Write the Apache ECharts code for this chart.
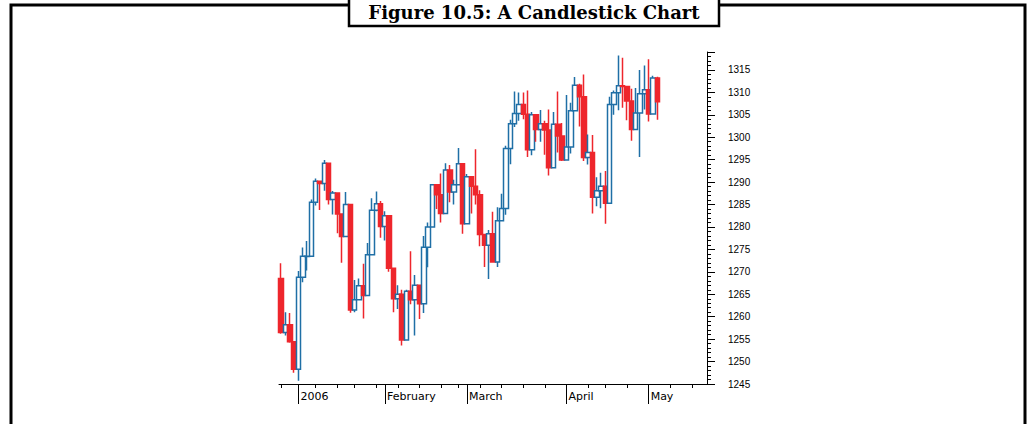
<!DOCTYPE html>
<html><head><meta charset="utf-8">
<script src="https://cdn.jsdelivr.net/npm/echarts/dist/echarts.min.js"></script>
<style>html,body{margin:0;padding:0;background:#fff;}#c{width:1029px;height:424px;}</style>
</head><body><div id="c"></div>
<script>
// Trading days (category axis); the last ones after May 3 carry no data.
const dates = [
 '2005-12-27','2005-12-28','2005-12-29','2005-12-30',
 '2006-01-03','2006-01-04','2006-01-05','2006-01-06','2006-01-09','2006-01-10','2006-01-11','2006-01-12','2006-01-13',
 '2006-01-17','2006-01-18','2006-01-19','2006-01-20','2006-01-23','2006-01-24','2006-01-25','2006-01-26','2006-01-27',
 '2006-01-30','2006-01-31',
 '2006-02-01','2006-02-02','2006-02-03','2006-02-06','2006-02-07','2006-02-08','2006-02-09','2006-02-10','2006-02-13',
 '2006-02-14','2006-02-15','2006-02-16','2006-02-17','2006-02-21','2006-02-22','2006-02-23','2006-02-24','2006-02-27','2006-02-28',
 '2006-03-01','2006-03-02','2006-03-03','2006-03-06','2006-03-07','2006-03-08','2006-03-09','2006-03-10','2006-03-13',
 '2006-03-14','2006-03-15','2006-03-16','2006-03-17','2006-03-20','2006-03-21','2006-03-22','2006-03-23','2006-03-24',
 '2006-03-27','2006-03-28','2006-03-29','2006-03-30','2006-03-31',
 '2006-04-03','2006-04-04','2006-04-05','2006-04-06','2006-04-07','2006-04-10','2006-04-11','2006-04-12','2006-04-13',
 '2006-04-17','2006-04-18','2006-04-19','2006-04-20','2006-04-21','2006-04-24','2006-04-25','2006-04-26','2006-04-27','2006-04-28',
 '2006-05-01','2006-05-02','2006-05-03',
 '2006-05-04','2006-05-05','2006-05-08','2006-05-09','2006-05-10','2006-05-11','2006-05-12','2006-05-15','2006-05-16','2006-05-17','2006-05-18'
];
const opens = [1268.5,1256.5,1258.2,1254.4,1248.3,1268.8,1273.4,1273.5,1285.5,1290.2,1289.7,1294.2,1286.1,1287.6,1282.9,1277.9,1285.0,1261.5,1263.8,1266.9,1264.7,1273.8,1283.7,1285.2,1280.1,1282.5,1270.8,1264.0,1265.0,1254.8,1265.7,1263.8,1267.0,1262.9,1275.5,1280.0,1289.4,1287.2,1283.0,1292.7,1287.8,1289.4,1294.1,1280.7,1291.2,1289.1,1287.2,1278.3,1275.9,1278.5,1272.2,1281.4,1284.1,1297.5,1303.0,1305.3,1307.3,1305.1,1297.2,1305.0,1301.7,1303.0,1301.6,1293.2,1302.9,1300.3,1294.9,1297.8,1305.9,1311.6,1309.0,1295.5,1296.6,1286.6,1288.1,1289.1,1285.3,1307.3,1309.9,1311.5,1311.3,1308.1,1301.7,1305.4,1309.7,1310.6,1305.2,1313.2];
const closes = [1256.5,1258.2,1254.4,1248.3,1268.8,1273.5,1273.5,1285.5,1290.2,1289.7,1294.2,1286.1,1287.6,1282.9,1277.9,1285.0,1261.5,1263.8,1266.9,1264.7,1273.8,1283.7,1285.2,1280.1,1282.5,1270.8,1264.0,1265.0,1254.8,1265.7,1263.8,1267.0,1262.9,1275.5,1280.0,1289.4,1287.2,1283.0,1292.7,1287.8,1289.4,1294.1,1280.7,1291.2,1289.1,1287.2,1278.3,1275.9,1278.5,1272.2,1281.4,1284.1,1297.5,1303.0,1305.3,1307.3,1305.1,1297.2,1305.0,1301.7,1303.0,1301.6,1293.2,1302.9,1300.3,1294.9,1297.8,1305.9,1311.6,1309.0,1295.5,1296.6,1286.6,1288.1,1289.1,1285.3,1307.3,1309.9,1311.5,1311.3,1308.1,1301.7,1305.4,1309.7,1310.6,1305.2,1313.2,1307.9];
const lows = [1256.2,1255.8,1254.2,1247.5,1245.7,1267.7,1270.3,1273.5,1284.8,1283.8,1288.1,1285.0,1282.8,1278.6,1272.0,1277.9,1260.9,1261.0,1263.8,1259.6,1264.7,1273.8,1283.5,1277.6,1277.0,1270.0,1261.0,1261.7,1253.6,1254.8,1262.8,1255.8,1259.5,1260.8,1271.0,1280.0,1284.0,1281.0,1283.0,1285.5,1285.0,1289.4,1278.5,1280.7,1283.0,1285.0,1275.7,1271.1,1268.4,1272.0,1271.1,1281.4,1282.7,1294.0,1302.3,1303.7,1304.0,1295.6,1296.0,1299.0,1299.0,1296.1,1291.5,1293.2,1296.6,1294.7,1294.9,1296.4,1305.9,1302.4,1294.7,1293.9,1283.0,1284.6,1284.2,1280.7,1285.3,1305.0,1306.0,1306.6,1303.8,1299.2,1301.7,1295.6,1306.2,1303.5,1305.2,1303.9];
const highs = [1271.9,1261.0,1260.8,1254.4,1270.2,1275.4,1276.9,1286.1,1290.8,1290.2,1294.9,1294.2,1288.0,1287.6,1282.9,1287.8,1285.0,1268.2,1268.5,1271.8,1276.4,1286.4,1287.9,1285.8,1283.5,1282.5,1270.8,1267.0,1266.0,1266.0,1274.6,1269.3,1267.0,1278.0,1281.0,1289.4,1289.4,1291.9,1294.2,1293.8,1290.5,1297.6,1294.1,1291.8,1291.2,1297.3,1288.2,1278.3,1279.3,1283.4,1284.4,1287.4,1298.1,1303.9,1310.2,1310.0,1310.0,1310.4,1305.6,1305.0,1306.1,1303.7,1306.2,1305.6,1310.2,1303.2,1309.4,1307.7,1313.4,1311.9,1314.0,1300.6,1300.5,1291.1,1292.1,1292.5,1309.0,1310.4,1318.2,1317.7,1311.3,1310.8,1311.0,1315.0,1316.0,1317.4,1313.7,1313.5];
const monthLabels = ['2006','February','March','April','May'];

const candles = opens.map((o, i) => [o, closes[i], lows[i], highs[i]]);

// which categories start a month / a week
const dayOf = s => new Date(s + 'T00:00:00Z');
const monthStart = dates.map((d, i) => i > 0 && d.slice(0, 7) !== dates[i - 1].slice(0, 7));
const weekStart = dates.map((d, i) => i === 0 || dayOf(d).getUTCDay() <= dayOf(dates[i - 1]).getUTCDay());
const labelOf = {};
let k = 0;
dates.forEach((d, i) => { if (monthStart[i]) labelOf[d] = monthLabels[k++]; });

const BLUE = '#1f6fa6', RED = '#ee262c';
const chart = echarts.init(document.getElementById('c'), null, {renderer: 'svg'});
chart.setOption({
  animation: false,
  backgroundColor: '#fff',
  grid: {left: 279, right: 322, top: 52, bottom: 40, containLabel: false, outerBoundsMode: 'none'},
  xAxis: [{
    type: 'category', data: dates, boundaryGap: true, position: 'bottom',
    axisLine: {show: true, lineStyle: {color: '#000', width: 1}},
    axisTick: {show: true, alignWithLabel: true, length: 4,
      interval: (i) => weekStart[i] && !monthStart[i], lineStyle: {color: '#000'}},
    axisLabel: {show: false}, splitLine: {show: false}
  }, {
    type: 'category', data: dates, boundaryGap: true, position: 'bottom',
    axisLine: {show: false},
    axisTick: {show: true, alignWithLabel: true, length: 20,
      interval: (i) => monthStart[i], lineStyle: {color: '#000'}},
    axisLabel: {show: true, interval: (i) => monthStart[i], formatter: (v) => labelOf[v] || '',
      align: 'left', padding: [0, 0, 0, 2], margin: 7, fontFamily: 'DejaVu Sans', fontSize: 11, color: '#000'},
    splitLine: {show: false}
  }],
  yAxis: {
    type: 'value', position: 'right', min: 1245, max: 1319, interval: 5,
    axisLine: {show: true, lineStyle: {color: '#000', width: 1}},
    axisTick: {show: true, length: 8, lineStyle: {color: '#000'}},
    minorTick: {show: true, splitNumber: 5, length: 4, lineStyle: {color: '#000'}},
    splitLine: {show: false}, minorSplitLine: {show: false},
    axisLabel: {margin: 21, fontFamily: 'Liberation Sans', fontSize: 10, color: '#000',
      formatter: (v) => (v % 5 === 0 ? String(v) : '')}
  },
  series: [{
    type: 'candlestick', xAxisIndex: 0, data: candles, barWidth: 5,
    itemStyle: {color: '#ffffff', color0: RED, borderColor: BLUE, borderColor0: RED, borderWidth: 1.5}
  }],
  graphic: [
    {type: 'rect', silent: true, z: 100, shape: {x: 11, y: 5, width: 1014, height: 440},
      style: {fill: 'none', stroke: '#000', lineWidth: 3}},
    {type: 'rect', silent: true, z: 101, shape: {x: 349, y: -10, width: 370, height: 36},
      style: {fill: '#fff', stroke: '#000', lineWidth: 2.5}},
    {type: 'text', silent: true, z: 102, x: 534, y: 12,
      style: {text: 'Figure 10.5: A Candlestick Chart', fill: '#000', align: 'center', verticalAlign: 'middle',
        font: 'bold 18px "DejaVu Serif"'}}
  ]
});
</script></body></html>
